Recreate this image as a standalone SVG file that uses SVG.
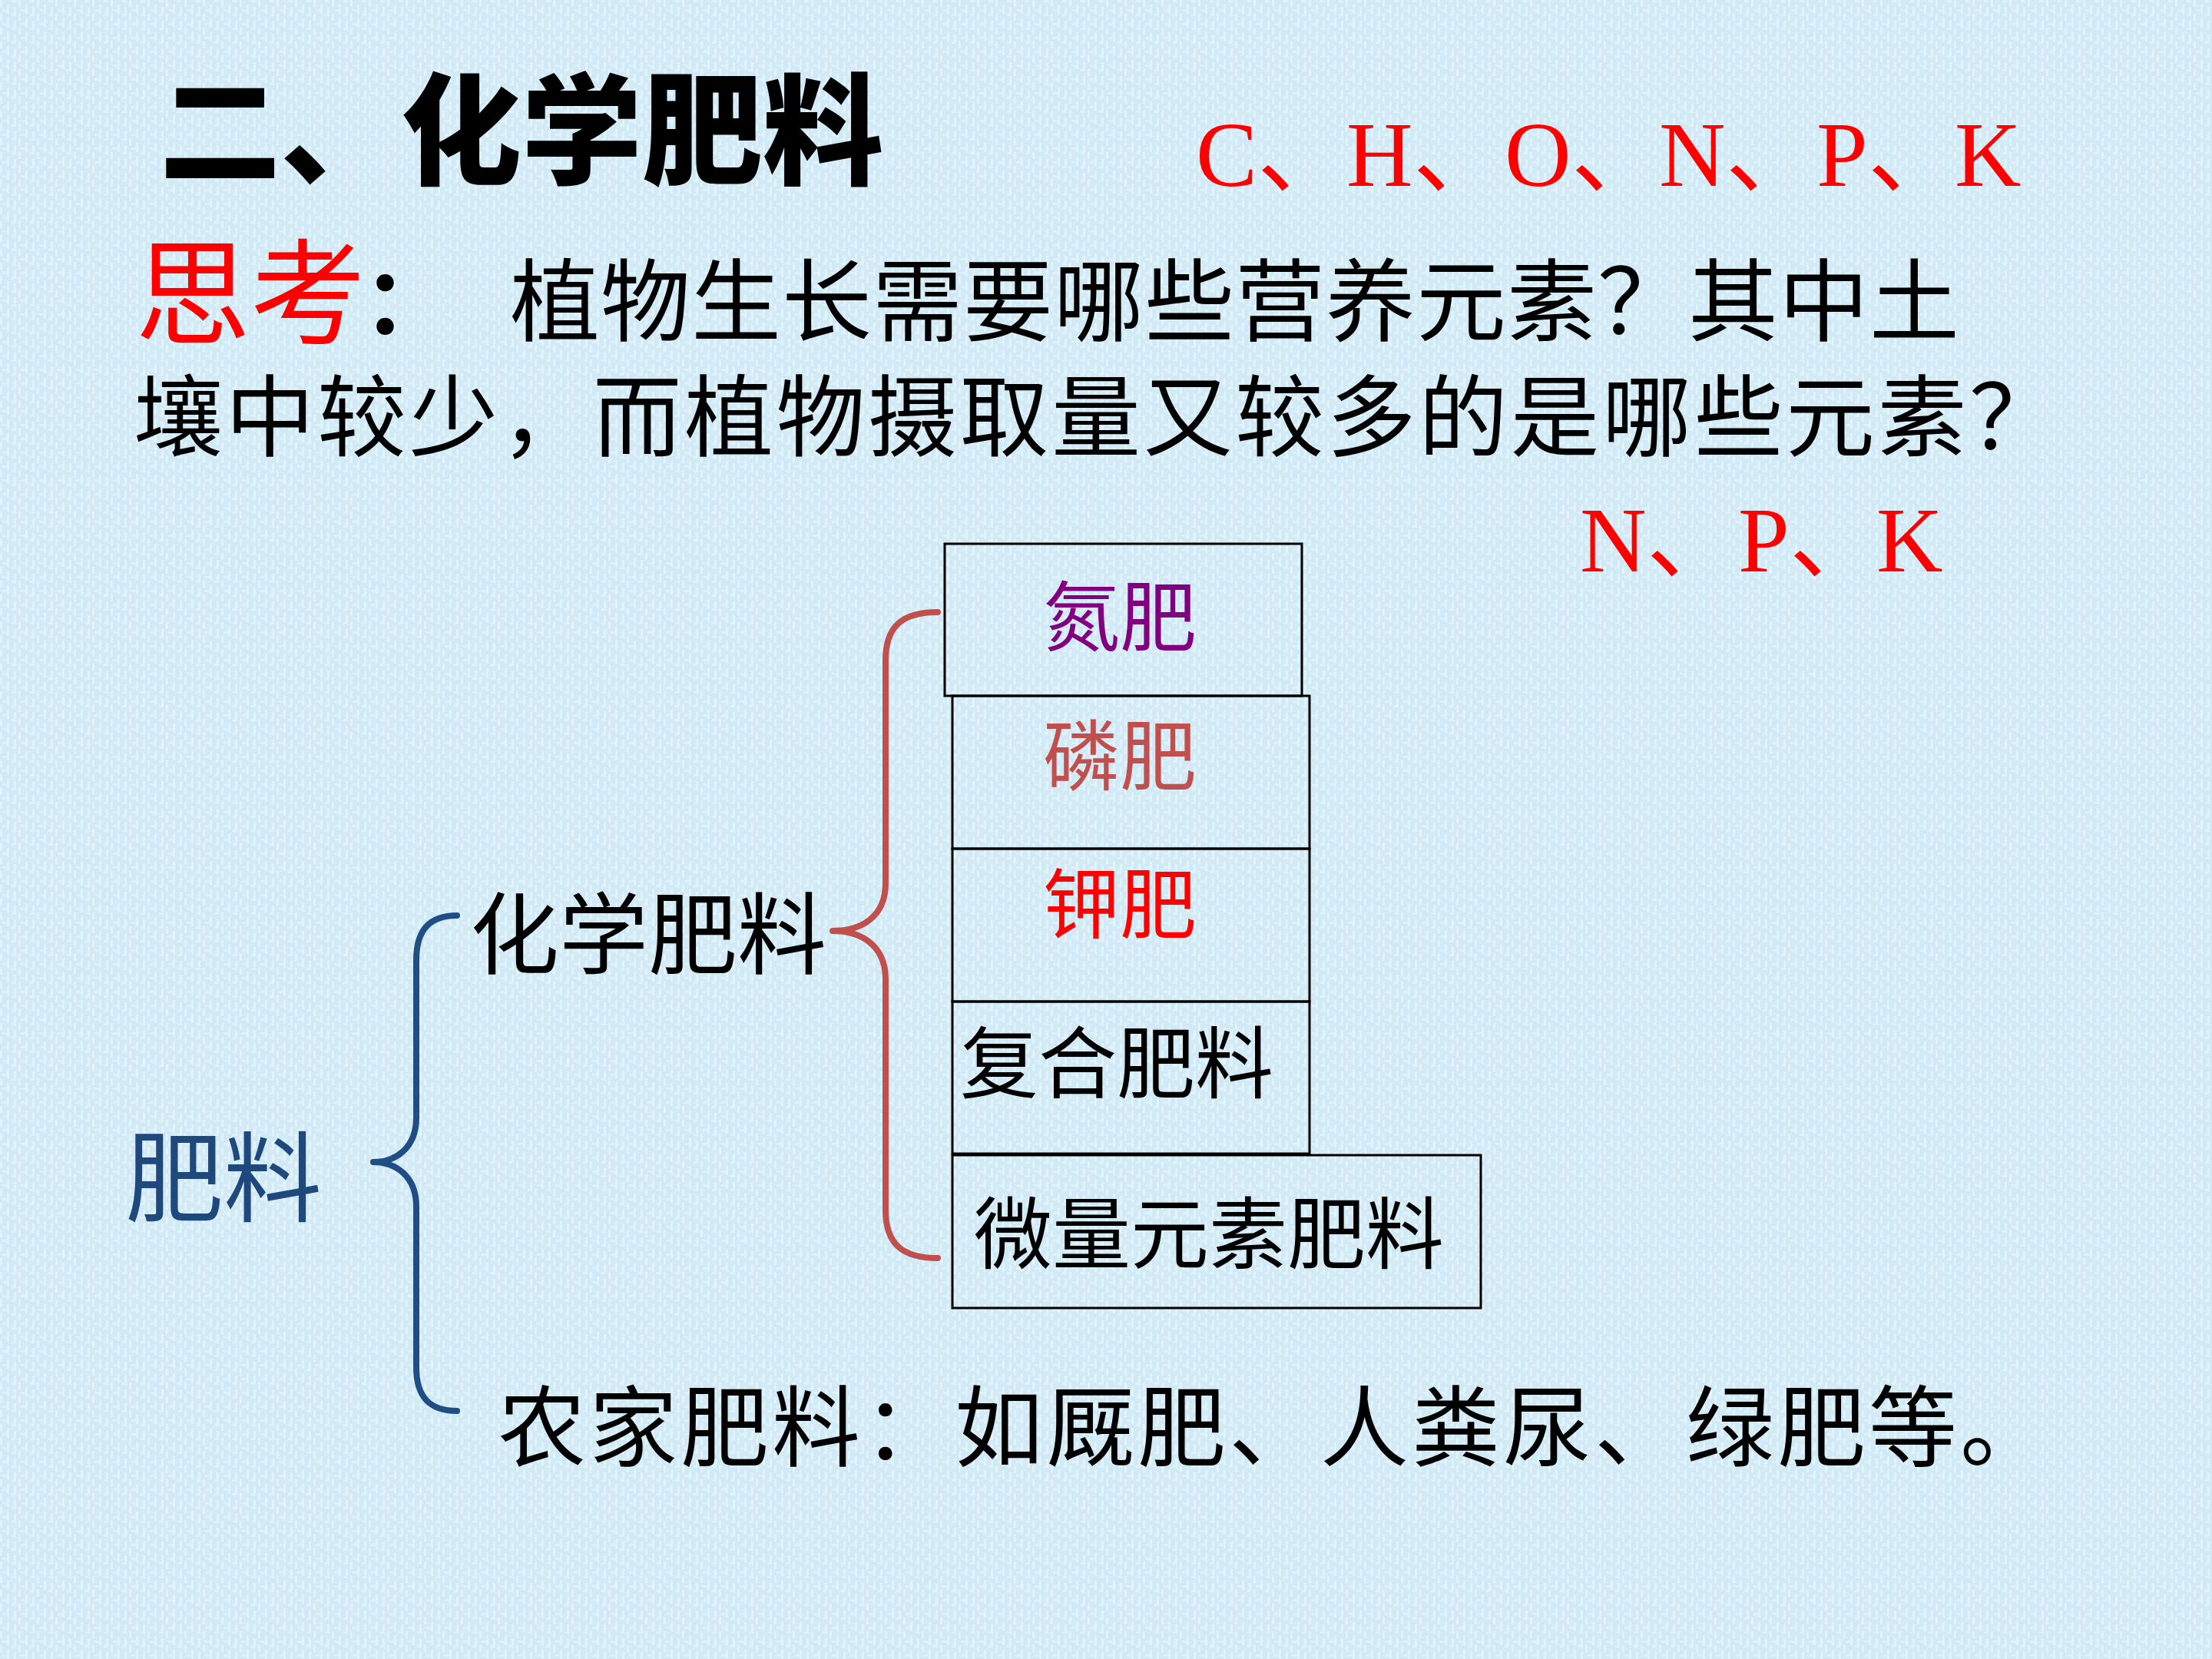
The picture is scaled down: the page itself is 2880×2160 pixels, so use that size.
<svg xmlns="http://www.w3.org/2000/svg" width="2880" height="2160" viewBox="0 0 2880 2160">
  <defs>
    <pattern id="tex" width="24" height="18" patternUnits="userSpaceOnUse">
      <rect width="24" height="18" fill="#D1EAF5"/>
      <rect x="0" y="0" width="3" height="9" fill="#E2F4FB"/>
      <rect x="9" y="6" width="3" height="12" fill="#E2F4FB"/>
      <rect x="15" y="0" width="6" height="3" fill="#E0F2FA"/>
      <rect x="3" y="12" width="6" height="3" fill="#DFF1FA"/>
      <rect x="18" y="9" width="3" height="9" fill="#E2F4FB"/>
    </pattern>
    <style>
      .cjk { font-family: "Liberation Serif", "Noto Sans CJK SC", serif; }
      .latin { font-family: "Liberation Serif", "Noto Sans CJK SC", serif; fill: #FF0000; font-size: 120px; }
      .box { fill: none; stroke: #000000; stroke-width: 3; }
      .brace { fill: none; stroke-width: 8; stroke-linecap: round; stroke-linejoin: round; }
    </style>
  </defs>

  <rect width="2880" height="2160" fill="url(#tex)"/>

  <g id="title">
    <text class="cjk" x="208" y="228" font-size="157" font-weight="900" fill="#000000">二、化学肥料</text>
  </g>

  <g id="elements-all">
    <text class="latin" y="242"><tspan x="1557">C</tspan><tspan>、</tspan><tspan x="1753">H</tspan><tspan>、</tspan><tspan x="1959">O</tspan><tspan>、</tspan><tspan x="2160">N</tspan><tspan>、</tspan><tspan x="2365">P</tspan><tspan>、</tspan><tspan x="2545">K</tspan></text>
  </g>

  <g id="question">
    <text class="cjk" x="176" y="437" font-size="150" fill="#FF0000">思考</text>
    <text class="cjk" x="472" y="435" font-size="118" font-weight="bold" fill="#000000">：</text>
    <text class="cjk" x="664" y="435" font-size="117" letter-spacing="1" fill="#000000">植物生长需要哪些营养元素？其中土</text>
    <text class="cjk" x="174" y="585" font-size="116" letter-spacing="3.5" fill="#000000">壤中较少，而植物摄取量又较多的是哪些元素？</text>
  </g>

  <g id="elements-npk">
    <text class="latin" y="744"><tspan x="2057">N</tspan><tspan>、</tspan><tspan x="2263">P</tspan><tspan>、</tspan><tspan x="2443">K</tspan></text>
  </g>

  <g id="connectors">
    <path class="brace" stroke="#C0504D" d="M1221,797 C1175,797 1153,815 1153,860 L1153,1150 C1153,1195 1120,1212 1084,1212 C1120,1212 1153,1230 1153,1275 L1153,1575 C1153,1620 1175,1638 1221,1638"/>
    <path class="brace" stroke="#1F4E85" d="M595,1192 C560,1192 542,1210 542,1250 L542,1455 C542,1495 515,1513 486,1513 C515,1513 542,1531 542,1571 L542,1780 C542,1820 560,1837 595,1837"/>
  </g>

  <g id="node-feiliao">
    <text class="cjk" x="163" y="1581" font-size="128" fill="#1F497D">肥料</text>
  </g>

  <g id="node-huaxue">
    <text class="cjk" x="612" y="1259" font-size="116" fill="#000000">化学肥料</text>
  </g>

  <g id="node-danfei">
    <rect class="box" x="1230" y="708" width="465" height="198"/>
    <text class="cjk" x="1358" y="840" font-size="100" fill="#800080">氮肥</text>
  </g>
  <g id="node-linfei">
    <rect class="box" x="1240" y="906" width="465" height="199"/>
    <text class="cjk" x="1358" y="1021" font-size="100" fill="#C0504D">磷肥</text>
  </g>
  <g id="node-jiafei">
    <rect class="box" x="1240" y="1105" width="465" height="199"/>
    <text class="cjk" x="1358" y="1214" font-size="100" fill="#FF0000">钾肥</text>
  </g>
  <g id="node-fuhe">
    <rect class="box" x="1240" y="1304" width="465" height="198"/>
    <text class="cjk" x="1250" y="1422" font-size="102" fill="#000000">复合肥料</text>
  </g>
  <g id="node-weiliang">
    <rect class="box" x="1240" y="1504" width="688" height="199"/>
    <text class="cjk" x="1268" y="1644" font-size="102" fill="#000000">微量元素肥料</text>
  </g>

  <g id="node-nongjia">
    <text class="cjk" x="648" y="1900" font-size="115" letter-spacing="4" fill="#000000">农家肥料：如厩肥、人粪尿、绿肥等。</text>
  </g>
</svg>
